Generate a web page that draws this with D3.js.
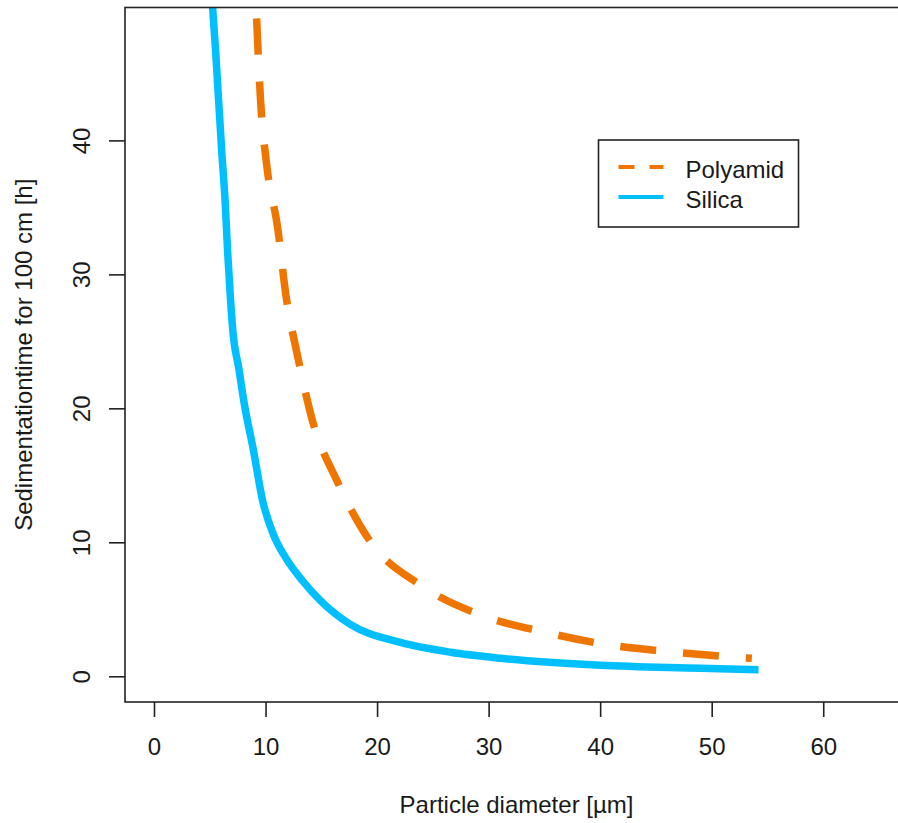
<!DOCTYPE html>
<html>
<head>
<meta charset="utf-8">
<script src="https://cdnjs.cloudflare.com/ajax/libs/d3/7.8.5/d3.min.js"></script>
<style>
  body { margin: 0; background: #fff; }
  text { font-family: "Liberation Sans", Arial, sans-serif; font-size: 24px; fill: #1a1a1a; }
</style>
</head>
<body>
<svg id="sedgraph"></svg>
<script>
// values
var silicaDiameter = [5.12, 5.26, 5.53, 6.07, 6.38, 6.6, 6.87, 7.1, 7.6, 8.04, 8.93, 9.74, 10.7, 11.8, 13.3, 14.9, 17.6, 22.1, 26.6, 31.1, 40.0, 49.0, 54.2]
var silicaTime     = [51.5, 49.85, 46.6, 39.2, 35.4, 31.7, 28.0, 25.5, 23.0, 20.6, 16.8, 13.1, 10.6, 8.86, 7.15, 5.66, 3.87, 2.53, 1.79, 1.34, 0.82, 0.6, 0.48]

var polyDiameter = [9.2, 9.56, 10.1, 11.1, 11.8, 12.9, 14.2, 16.4, 19.4, 23.9, 29.2, 35.0, 40.7, 46.3, 53.6]
var polyTime     = [49.1, 42.9, 38.2, 33.4, 28.6, 23.8, 19.1, 14.6, 10.05, 6.8, 4.6, 3.3, 2.35, 1.82, 1.34]

var xTicks = [0, 10, 20, 30, 40, 50, 60]
var yTicks = [0, 10, 20, 30, 40]

var seriesNames = ["Polyamid", "Silica"]
var seriesColors = ["#EE7600", "#00BFFF"]

var initSedGraph = function()
{
    var screen = {width:898, height:823}
    // plot box (right edge runs past the picture)
    var box = {left:125, top:7.5, right:908, bottom:702}

    var svg = d3.select("#sedgraph")
        .attr("width", screen.width)
        .attr("height", screen.height)

    var xScale = d3.scaleLinear()
        .domain([-2.6, 67.6])
        .range([box.left, box.right])

    var yScale = d3.scaleLinear()
        .domain([-1.92, 49.92])
        .range([box.bottom, box.top])

    svg.append("clipPath")
        .attr("id", "plotclip")
        .append("rect")
        .attr("x", box.left)
        .attr("y", box.top)
        .attr("width", box.right - box.left)
        .attr("height", box.bottom - box.top)

    var line = d3.line()
        .curve(d3.curveMonotoneX)
        .x(function(p) {return xScale(p.d)})
        .y(function(p) {return yScale(p.t)})

    var silica = silicaDiameter.map(function(d, i) {return {d:d, t:silicaTime[i]}})
    var poly = polyDiameter.map(function(d, i) {return {d:d, t:polyTime[i]}})

    var plot = svg.append("g").attr("clip-path", "url(#plotclip)")

    plot.append("path")
        .datum(silica)
        .attr("d", line)
        .attr("fill", "none")
        .attr("stroke", seriesColors[1])
        .attr("stroke-width", 7.5)

    plot.append("path")
        .datum(poly)
        .attr("d", line)
        .attr("fill", "none")
        .attr("stroke", seriesColors[0])
        .attr("stroke-width", 7.5)
        .attr("stroke-dasharray", "36,27")

    // box
    svg.append("rect")
        .attr("x", box.left)
        .attr("y", box.top)
        .attr("width", box.right - box.left)
        .attr("height", box.bottom - box.top)
        .attr("fill", "none")
        .attr("stroke", "#222")
        .attr("stroke-width", 1.6)

    // axes
    var xAxis = d3.axisBottom(xScale).tickValues(xTicks).tickSize(15).tickPadding(0).tickFormat(d3.format("d"))
    var gx = svg.append("g")
        .attr("transform", "translate(0," + box.bottom + ")")
        .call(xAxis)
    gx.select(".domain").remove()
    gx.selectAll(".tick line").attr("stroke", "#222").attr("stroke-width", 1.6)
    gx.selectAll(".tick text")
        .attr("y", 53)
        .attr("dy", null)
        .attr("font-size", null)
        .attr("font-family", null)

    var yAxis = d3.axisLeft(yScale).tickValues(yTicks).tickSize(16).tickFormat(d3.format("d"))
    var gy = svg.append("g")
        .attr("transform", "translate(" + box.left + ",0)")
        .call(yAxis)
    gy.select(".domain").remove()
    gy.selectAll(".tick line").attr("stroke", "#222").attr("stroke-width", 1.6)
    gy.selectAll(".tick text")
        .attr("x", null)
        .attr("dy", null)
        .attr("font-size", null)
        .attr("font-family", null)
        .attr("text-anchor", "middle")
        .attr("transform", "translate(-35,0) rotate(-90)")

    // labels
    svg.append("text")
        .text("Particle diameter [µm]")
        .attr("text-anchor", "middle")
        .attr("x", (box.left + box.right) / 2)
        .attr("y", 813)

    svg.append("g")
        .attr("transform", "translate(32," + ((box.top + box.bottom) / 2) + ")")
        .append("text")
        .text("Sedimentationtime for 100 cm [h]")
        .attr("text-anchor", "middle")
        .attr("transform", "rotate(-90)")

    // legend
    var legend = svg.append("g").attr("transform", "translate(598.5,140)")
    legend.append("rect")
        .attr("width", 200)
        .attr("height", 87)
        .attr("fill", "#fff")
        .attr("stroke", "#222")
        .attr("stroke-width", 1.6)

    var entries = legend.selectAll("g.entry")
        .data(seriesNames)
        .enter()
        .append("g")
        .classed("entry", true)
        .attr("transform", function(name, i) {return "translate(0," + (27 + i * 30) + ")"})

    entries.append("line")
        .attr("x1", 20)
        .attr("x2", 65)
        .attr("stroke", function(name, i) {return seriesColors[i]})
        .attr("stroke-width", 4)
        .attr("stroke-dasharray", function(name, i) {return i == 0 ? "16,15" : null})

    entries.append("text")
        .text(function(name) {return name})
        .attr("x", 87)
        .attr("y", 11)
}

initSedGraph()
</script>
</body>
</html>
